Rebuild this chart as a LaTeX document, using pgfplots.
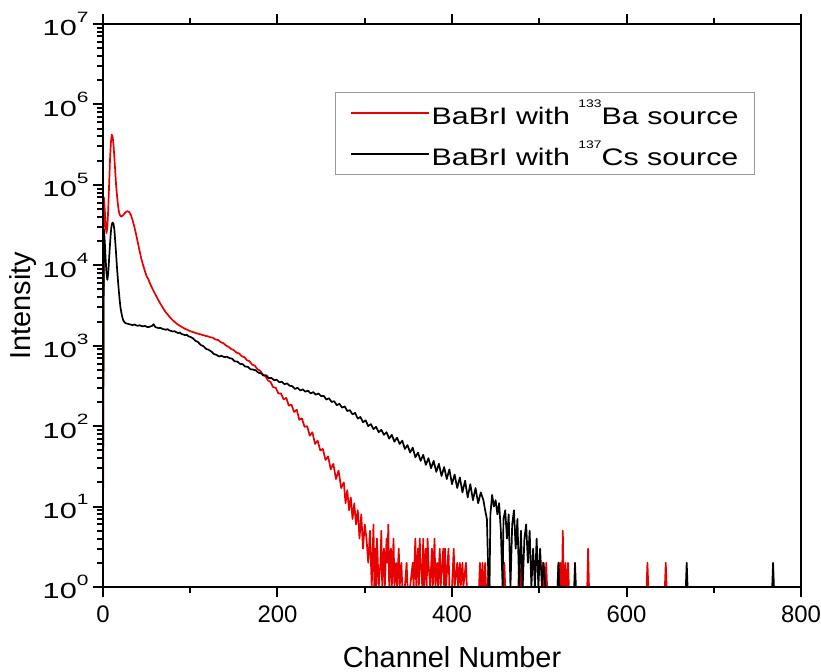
\documentclass[border=0pt]{standalone}
\usepackage{fontspec}
\setmainfont{Liberation Sans}
\newfontfamily\ytickfont{Liberation Sans}[FakeStretch=1.4]
\newfontfamily\legfont{Liberation Sans}[FakeStretch=1.27]
\usepackage{pgfplots}
\pgfplotsset{compat=1.18}
\definecolor{myred}{RGB}{230,0,0}
\newcommand\sups[1]{\raisebox{0.62em}{\fontsize{15}{15}\selectfont #1}}
\newcommand\lsups[1]{\raisebox{0.72em}{\fontsize{11}{11}\selectfont #1}}
\begin{document}
\begin{tikzpicture}
\useasboundingbox (-103bp,-85bp) rectangle (718bp,587bp);
\begin{axis}[
  at={(0,0)}, anchor=south west,
  scale only axis, width=698bp, height=563bp,
  xmin=0, xmax=800, ymin=1, ymax=1e7,
  ymode=log,
  axis on top,
  axis line style={line width=2.4bp},
  every tick/.style={black, line width=2bp},
  tick align=outside,
  major tick length=10bp, minor tick length=6bp,
  xtick={0,200,400,600,800},
  minor xtick={100,300,500,700},
  xtick pos=both, ytick pos=left,
  xticklabel pos=bottom,
  ytick={1,10,100,1000,10000,100000,1000000,10000000},
  yticklabels={10\sups{0},10\sups{1},10\sups{2},10\sups{3},10\sups{4},10\sups{5},10\sups{6},10\sups{7}},
  minor ytick={2,3,4,5,6,7,8,9,20,30,40,50,60,70,80,90,200,300,400,500,600,700,800,900,2000,3000,4000,5000,6000,7000,8000,9000,2e4,3e4,4e4,5e4,6e4,7e4,8e4,9e4,2e5,3e5,4e5,5e5,6e5,7e5,8e5,9e5,2e6,3e6,4e6,5e6,6e6,7e6,8e6,9e6},
  /pgf/number format/assume math mode=true,
  xticklabel style={font=\fontsize{24}{28}\selectfont, yshift=-5bp},
  yticklabel style={font=\ytickfont\fontsize{22}{26}\selectfont, xshift=-1bp},
  xlabel={Channel Number},
  ylabel={Intensity},
  label style={font=\fontsize{29}{33}\selectfont},
  xlabel style={at={(axis description cs:0.5,0)}, anchor=base, yshift=-80bp},
  ylabel style={at={(axis description cs:0,0.5)}, anchor=base, yshift=72bp},
  legend style={at={(0.934,0.879)}, anchor=north east, draw=gray!80, line width=1bp,
    font=\legfont\fontsize{24}{28}\selectfont, inner xsep=14bp, inner ysep=5bp,
    row sep=11bp},
  legend cell align=left,
  legend image code/.code={\path (-6bp,0bp) -- (72bp,0bp); \draw[#1] (0bp,0bp) -- (66bp,0bp);},
  every axis plot/.append style={line width=1.7bp, line join=round},
]
\addplot[myred, mark=none] table {
0 3
1 70000
2 50000
3 32000
4 25000
5 30000
6 50000
7 100000
8 200000
9 330000
10 420000
11 400000
12 320000
13 220000
14 150000
15 100000
16 75000
17 58000
18 48000
19 43000
20 41000
21 40000
22 41000
24 43000
26 46000
28 47000
30 46000
32 42000
34 36000
36 30000
38 24000
40 19000
42 15000
44 12000
46 10000
48 8500
50 7300
52 6700
54 5900
56 5300
58 4800
60 4350
62 3950
64 3600
66 3300
68 3050
70 2800
72 2600
74 2450
76 2300
78 2180
80 2070
82 1980
84 1900
86 1830
88 1770
90 1720
92 1670
94 1620
96 1590
98 1550
100 1520
102 1490
104 1470
106 1440
108 1420
110 1400
112 1385
114 1360
116 1345
118 1320
120 1310
123 1275
126 1255
129 1195
132 1175
135 1105
138 1075
141 1005
144 965
147 910
150 880
153 820
156 800
159 740
162 720
165 660
168 640
171 580
174 565
177 510
180 490
183 440
186 420
189 370
192 355
195 305
198 300
201 255
204 255
207 215
210 225
213 180
216 185
219 150
222 160
225 120
228 125
231 98
234 100
237 76
240 84
243 60
246 66
249 50
252 52
255 38
258 42
261 29
264 34
267 22
270 28
273 17
276 20
278 11
280 16
282 9
284 13
286 7
288 11
290 6
292 9
294 4
296 8
298 3
300 6
302 4
304 2
306 5
308 1
310 6
311 1
312 3
313 1
314 4
316 1
318 2
319 5
320 1
322 3
323 1
325 4
326 2
327 6
328 1
330 3
331 1
333 4
334 1
336 2
337 1
339 3
340 1
342 2
343 1
346 1
348 2
349 1
352 1
355 2
356 1
358 4
359 1
361 3
362 1
363 4
364 2
366 1
367 4
368 1
370 3
371 1
372 4
373 2
375 1
377 3
378 1
380 4
381 1
383 2
384 1
386 3
387 1
390 3
391 1
392 3
393 1
395 2
396 3
397 1
400 1
402 3
403 1
406 2
407 1
409 2
410 1
412 2
413 1
416 2
417 1
420 1
425 1
431 1
432 2
433 1
434 1
435 2
436 1
437 1
438 2
439 1
441 1
442 2
443 1
450 1
458 1
459 1
460 2
461 1
470 1
476 1
477 2
478 1
479 1
480 2
481 1
490 1
496 1
503 1
504 2
505 1
507 1
508 2
509 1
515 1
521 1
522 2
523 1
524 2
525 1
526 1
527 5
528 1
529 1
530 2
531 1
532 1
533 2
534 1
545 1
555 1
556 3
557 1
570 1
600 1
623 1
624 2
625 1
644 1
645 2
646 1
700 1
800 1
};
\addlegendentry{BaBrI with \lsups{133}Ba source}
\addplot[black, mark=none] table {
0 15
1 28000
2 20000
3 12000
4 8000
5 6600
6 8000
7 12000
8 18000
9 26000
10 32000
11 34000
12 33000
13 28000
14 20000
15 14000
16 9500
17 6800
18 5000
19 3800
20 3000
21 2600
22 2300
23 2100
24 2000
25 1950
26 1900
28 1880
30 1850
32 1830
34 1800
36 1840
38 1790
40 1770
42 1800
44 1760
46 1740
48 1770
50 1720
52 1700
54 1730
56 1760
58 1850
60 1700
62 1680
64 1650
66 1670
68 1620
70 1600
72 1580
74 1610
76 1550
78 1530
80 1500
82 1520
84 1470
86 1440
88 1460
90 1400
92 1380
94 1350
96 1370
98 1310
100 1290
103 1240
106 1150
109 1110
112 1020
115 990
118 915
121 890
124 850
127 790
130 770
133 735
136 750
139 720
142 730
145 700
148 690
151 640
154 635
157 595
160 590
163 550
166 548
169 510
172 505
175 495
178 462
181 455
184 425
187 430
190 395
193 398
196 372
199 378
202 352
205 356
208 332
211 340
214 318
217 314
220 290
223 300
226 278
229 286
232 268
235 276
238 255
241 265
244 246
247 255
250 236
253 238
256 214
259 222
262 200
265 204
268 182
271 190
274 170
277 176
280 154
283 158
286 140
289 146
292 124
295 130
298 112
301 118
304 100
307 106
310 92
313 98
316 84
319 90
322 78
325 84
328 70
331 78
334 64
337 72
340 60
343 66
346 52
349 58
352 47
355 54
358 41
361 47
364 37
367 44
370 33
373 40
376 30
379 37
382 27
385 34
388 24
391 31
394 22
397 29
400 19
403 25
406 17
409 23
412 15
415 21
418 13
421 19
424 12
427 17
430 11
433 15
436 12
438 9
440 7
442 1
443 1
444 8
446 14
448 10
450 12
452 8
454 11
456 5
458 1
459 7
461 9
463 4
465 8
467 1
469 6
471 9
473 3
475 7
477 1
479 5
481 1
483 4
485 6
487 2
489 5
491 1
493 3
495 1
497 4
499 1
501 3
503 1
505 2
507 1
521 1
522 2
523 1
540 1
541 2
542 1
668 1
669 2
670 1
767 1
768 2
769 1
800 1
};
\addlegendentry{BaBrI with \lsups{137}Cs source}
\end{axis}
\end{tikzpicture}
\end{document}
